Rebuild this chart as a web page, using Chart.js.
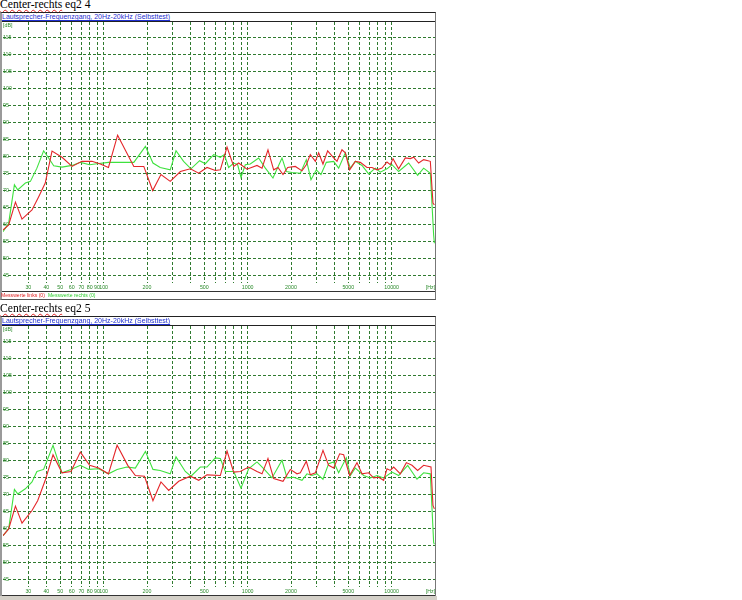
<!DOCTYPE html>
<html>
<head>
<meta charset="utf-8">
<title>Center-rechts eq2</title>
<script src="https://cdn.jsdelivr.net/npm/chart.js@4.4.0/dist/chart.umd.min.js"></script>
<style>
  html, body { margin: 0; padding: 0; background: #fff; width: 742px; height: 600px; overflow: hidden; }
  .block { position: absolute; left: 0; width: 440px; height: 304px; }
  .title { position: absolute; left: 0; top: -1px; font: 11.6px "Liberation Serif", "Times New Roman", serif; line-height: 12px; color: #000; white-space: nowrap; }
  .title .sp { text-decoration: underline wavy #e02020; text-decoration-thickness: 1px; text-underline-offset: 1px; }
  .frame { position: absolute; left: 0; top: 12px; width: 436px; height: 288px; box-sizing: border-box;
           border-top: 1px solid #222; border-right: 1px solid #777; border-left: 2px solid #9a9a9a; border-bottom: 1px solid #555; }
  .head { position: absolute; left: 2px; top: 13px; width: 433px; height: 8px; border-bottom: 1px solid #222;
          font: 7px "Liberation Sans", Arial, sans-serif; line-height: 8px; color: #1f2fd0; white-space: nowrap; }
  .head span { text-decoration: underline; }
  canvas { position: absolute; left: 3px; top: 22px; }
  .sep { position: absolute; left: 2px; top: 291px; width: 433px; border-top: 1px solid #333; }
  .legend { position: absolute; left: 1px; top: 292px; font: 5.1px "Liberation Sans", Arial, sans-serif; line-height: 6px; white-space: nowrap; }
  .legend .l { color: #e02020; margin-right: 3px; }
  .legend .r { color: #30d030; }
  .strip { position: absolute; left: 0; top: 596px; width: 437px; height: 4px; background: #d4d0c8; }
</style>
</head>
<body>

<div class="block" style="top:0px">
  <div class="title"><span class="sp">Center-rechts</span> eq2 4</div>
  <div class="frame"></div>
  <div class="head"><span>Lautsprecher-Frequenzgang, 20Hz-20kHz (Selbsttest)</span></div>
  <canvas id="chart1" width="432" height="270"></canvas>
  <div class="sep"></div>
  <div class="legend"><span class="l">Messwerte links (0)</span><span class="r">Messwerte rechts (0)</span></div>
</div>

<div class="block" style="top:304px">
  <div class="title"><span class="sp">Center-rechts</span> eq2 5</div>
  <div class="frame"></div>
  <div class="head"><span>Lautsprecher-Frequenzgang, 20Hz-20kHz (Selbsttest)</span></div>
  <canvas id="chart2" width="432" height="270"></canvas>
  <div class="sep"></div>
  <div class="legend"><span class="l">Messwerte links (0)</span><span class="r">Messwerte rechts (0)</span></div>
</div>

<div class="strip"></div>

<script>
// tick positions
const freqGrid = [30, 40, 50, 60, 70, 80, 90, 100, 200, 300, 400, 500, 600, 700, 800, 900,
  1000, 2000, 3000, 4000, 5000, 6000, 7000, 8000, 9000, 10000];
const freqLabels = [30, 40, 50, 60, 70, 80, 90, 100, 200, 500, 1000, 2000, 5000, 10000];
const hzLabelAt = 18600;
const dbGrid = [45, 50, 55, 60, 65, 70, 75, 80, 85, 90, 95, 100, 105, 110, 115];
const dbLabelAt = 118.6;

// Center-rechts eq2 4
const c1RedHz = [20, 21.9, 24.4, 27.1, 31.8, 35.4, 39.3, 43.8, 51.4, 60.3, 70.7, 83, 94.8, 108, 125, 162, 190, 219, 250, 290,
  341, 400, 457, 522, 596, 646, 719, 800, 866, 989, 1161, 1258, 1384, 1516, 1624, 1760, 1896, 2143, 2384, 2555,
  2724, 2951, 3112, 3335, 3594, 3956, 4173, 4519, 4767, 5109, 5594, 6059, 6741, 7302, 7909, 8567, 9282, 9789, 10220, 11180,
  12440, 13480, 14220, 15400, 16680, 18560, 19360, 19800];
const c1RedDb = [58.5, 60, 66.7, 61.7, 64.4, 68.3, 72.3, 81.7, 79.9, 77.2, 78.7, 78.7, 77.9, 76.9, 86.4, 77.2, 77.2, 70.1, 74.8, 72.8,
  75.7, 76.5, 75.2, 76.9, 76, 76.2, 82.9, 77.2, 78.2, 76.4, 77.5, 76.7, 82.1, 76.2, 76.9, 74.8, 76.9, 77.2, 75.9, 77.7,
  80.7, 78.7, 81.2, 77.9, 81.8, 79.7, 78.7, 82.1, 81.2, 76.2, 78.7, 78.4, 76.9, 76.9, 76.2, 76.7, 78.5, 77.7, 79.5, 76.5,
  79.7, 79.5, 79.9, 78.2, 79.2, 78.7, 66.4, 65.9];
const c1GreenHz = [20, 21.9, 24.0, 25.3, 28.6, 31.0, 34.4, 38.3, 41.5, 45.0, 51.4, 60.3, 68.9, 79.9, 89.9, 108, 138, 162, 195, 220,
  247, 290, 318, 359, 404, 464, 508, 581, 646, 689, 738, 800, 852, 899, 963, 1043, 1192, 1327, 1499, 1732,
  1856, 2032, 2322, 2555, 2753, 2999, 3230, 3518, 3956, 4285, 4767, 5164, 5594, 6223, 6923, 7702, 8342, 9282, 10050, 11180,
  13130, 15150, 16680, 18560, 19570, 19800];
const c1GreenDb = [58, 60.5, 71.8, 70.3, 72.3, 72.8, 76.7, 81.8, 79.7, 77.4, 77, 77.5, 78.4, 77.7, 78, 78.4, 78.4, 78.4, 83.1, 78.2,
  76.9, 76.2, 81.8, 78.7, 76.5, 78.9, 78, 80.7, 79.9, 80.7, 76.9, 78.2, 77.7, 74, 77.7, 77.9, 79.7, 76.7, 73.8, 79.7,
  75.7, 75.4, 75.2, 79.2, 73.3, 76.2, 74.8, 78.4, 78.7, 76.7, 81.2, 76.7, 78.7, 77.5, 75, 76.7, 75.5, 76.5, 77.7, 75.7,
  78.2, 74.6, 76.7, 75.2, 57, 54.6];

// Center-rechts eq2 5
const c2RedHz = [20, 21.9, 24.4, 27.1, 31.8, 34.8, 39.3, 44.5, 51.4, 59.3, 68.9, 79.9, 92.3, 108, 124, 147, 166, 192, 220, 250,
  283, 332, 400, 457, 522, 646, 719, 800, 889, 1016, 1161, 1258, 1384, 1516, 1760, 1979, 2201, 2322, 2555, 2724,
  2951, 3335, 3652, 3956, 4354, 4642, 5109, 5745, 6223, 6923, 7499, 8123, 8797, 9282, 9789, 10330, 11490, 12650, 13840, 15150,
  16680, 18760, 19360, 19800];
const c2RedDb = [58, 60, 66.7, 61.7, 65.4, 68.3, 74.3, 81.8, 76.5, 76.9, 82.6, 78.7, 77.9, 76.2, 84.6, 78.7, 75.7, 75.5, 68.3, 73.8,
  71.3, 74, 75.5, 74.3, 75.9, 75.7, 82.9, 76.7, 76.9, 78.2, 76.9, 76.2, 80.7, 74.8, 74, 77.5, 76.2, 76.5, 79.9, 75.9,
  76.5, 83.1, 78.7, 77.9, 82.1, 81.8, 75.7, 79.5, 76.2, 76.5, 75, 75.2, 74.3, 77.7, 77.2, 78.2, 76.2, 79.5, 78.7, 77.2,
  78.7, 78.2, 66.9, 65.9];
const c2GreenHz = [20, 21.9, 24.0, 25.3, 28.6, 31.8, 34.4, 38.3, 44.5, 51.4, 59.3, 68.9, 78.7, 92.3, 108, 124, 145, 166, 195, 220,
  247, 290, 318, 369, 404, 469, 522, 596, 646, 700, 800, 899, 1016, 1161, 1291, 1476, 1732, 1876, 2086, 2384,
  2582, 2798, 3030, 3335, 3652, 3956, 4285, 4844, 5164, 5594, 6391, 7110, 7909, 8797, 10050, 11180, 12920, 14990, 16680, 18560,
  19570, 19800];
const c2GreenDb = [58, 60, 71.6, 70.3, 71.8, 73.8, 76.9, 77.5, 84.6, 76.5, 77.5, 78.7, 77.5, 77.7, 76.2, 77.5, 78.2, 77.9, 82.8, 77.5,
  77.2, 76.2, 81.2, 76.9, 75.5, 78.2, 78.2, 80.9, 80.7, 76.9, 76.9, 72, 77.7, 79.7, 77.7, 75, 80.2, 75, 75.2, 74.3,
  76.2, 75.7, 76.2, 74.6, 79.2, 79.7, 76.5, 80.9, 75.7, 77.9, 75.7, 75, 75.7, 75, 76.7, 75.7, 78.7, 74.6, 76.5, 76.2,
  56, 55.5];

const RED = '#e4262a';
const GREEN = '#3ee23e';
const GRID = '#2f7a2f';
const LABEL = '#2a8a2a';
const FONT = { family: '"Liberation Sans", Arial, sans-serif', size: 5.3 };

function points(hz, db) {
  return hz.map((f, i) => ({ x: f, y: db[i] }));
}

function makeChart(id, redHz, redDb, greenHz, greenDb) {
  return new Chart(document.getElementById(id), {
    type: 'line',
    data: {
      datasets: [
        { label: 'Messwerte links (0)', data: points(redHz, redDb), borderColor: RED, borderWidth: 1.1, pointRadius: 0, tension: 0 },
        { label: 'Messwerte rechts (0)', data: points(greenHz, greenDb), borderColor: GREEN, borderWidth: 1.1, pointRadius: 0, tension: 0 },
      ],
    },
    options: {
      responsive: false,
      animation: false,
      layout: { padding: 0 },
      plugins: { legend: { display: false }, tooltip: { enabled: false } },
      scales: {
        x: {
          type: 'logarithmic',
          min: 20,
          max: 20000,
          afterBuildTicks: (s) => { s.ticks = freqGrid.concat([hzLabelAt]).map((v) => ({ value: v })); },
          afterFit: (s) => { s.height = 9; s.paddingLeft = 0; s.paddingRight = 0; },
          grid: {
            drawTicks: false,
            color: (ctx) => (ctx.tick && ctx.tick.value === hzLabelAt ? 'rgba(0,0,0,0)' : GRID),
          },
          border: { display: false, dash: [3, 2] },
          ticks: {
            autoSkip: false,
            maxRotation: 0,
            padding: 1,
            color: LABEL,
            font: FONT,
            callback: (v) => (v === hzLabelAt ? '[Hz]' : (freqLabels.includes(v) ? String(v) : '')),
          },
        },
        y: {
          min: 42.9,
          max: 119.7,
          afterBuildTicks: (s) => { s.ticks = dbGrid.concat([dbLabelAt]).map((v) => ({ value: v })); },
          afterFit: (s) => { s.width = 0; s.paddingTop = 0; s.paddingBottom = 0; },
          grid: {
            drawTicks: false,
            color: (ctx) => (ctx.tick && ctx.tick.value === dbLabelAt ? 'rgba(0,0,0,0)' : GRID),
          },
          border: { display: false, dash: [3, 2] },
          ticks: {
            mirror: true,
            padding: 0,
            color: LABEL,
            font: FONT,
            callback: (v) => (v === dbLabelAt ? '[dB]' : String(v)),
          },
        },
      },
    },
  });
}

makeChart('chart1', c1RedHz, c1RedDb, c1GreenHz, c1GreenDb);
makeChart('chart2', c2RedHz, c2RedDb, c2GreenHz, c2GreenDb);
</script>
</body>
</html>
